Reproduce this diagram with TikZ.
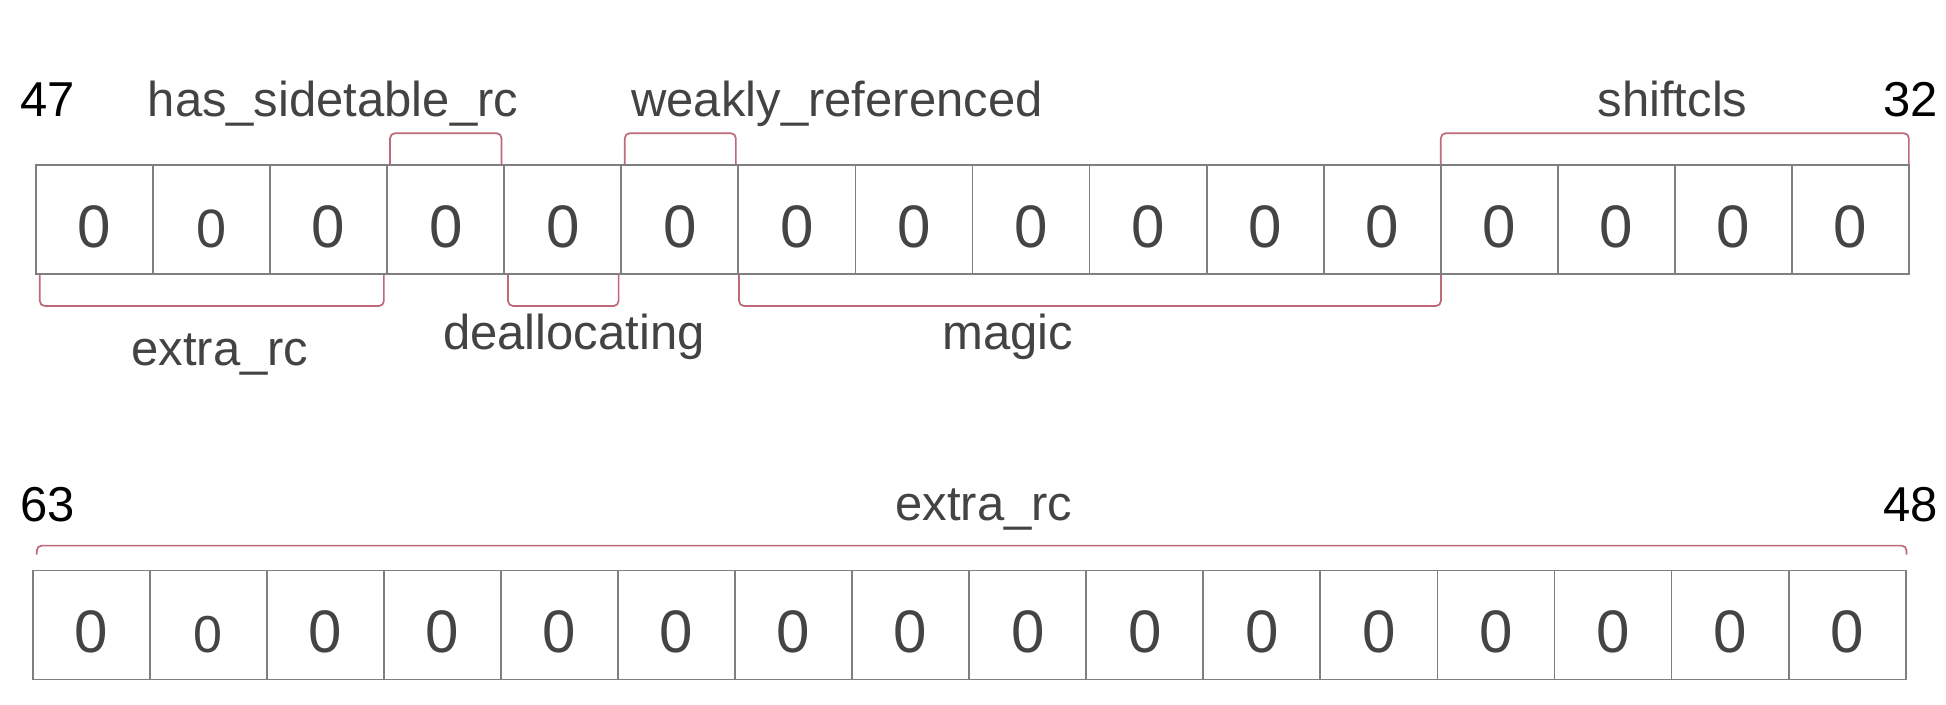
\documentclass[tikz,border=0pt]{standalone}
\usepackage{fontspec}
\setmainfont{Liberation Sans}
\definecolor{boxline}{HTML}{7F7F7F}
\definecolor{digit}{HTML}{444444}
\definecolor{labeltext}{HTML}{434343}
\definecolor{brace}{HTML}{BE6878}
\begin{document}
\begin{tikzpicture}[x=1pt,y=-1pt,
  cell/.style={draw=boxline, line width=1.8pt, minimum width=117.06pt,
    minimum height=109pt, inner sep=0pt, text=digit,
    font=\fontsize{60}{60}\selectfont, text height=55pt, text depth=0pt},
  smalldigit/.style={font=\fontsize{#1}{#1}\selectfont},
  brk/.style={draw=brace, line width=1.7pt, rounded corners=5pt},
  lbl/.style={text=labeltext, font=\fontsize{49}{49}\selectfont,
    inner sep=0pt, anchor=base},
  num/.style={text=black, font=\fontsize{49}{49}\selectfont, inner sep=0pt}]
\useasboundingbox (0,0) rectangle (1946,704);
\fill[white] (0,0) rectangle (1946,704);

% bits 47..32 (the second digit is typed a little smaller)
\foreach \i in {1,...,16}{
  \ifnum\i=2
    \node[cell, smalldigit=54] (t\i) at ({36+117.06*(\i-0.5)},219.6) {0};
  \else
    \node[cell] (t\i) at ({36+117.06*(\i-0.5)},219.6) {0};
  \fi}
% bits 63..48 (here too)
\foreach \i in {1,...,16}{
  \ifnum\i=2
    \node[cell, smalldigit=52] (b\i) at ({32.7+117.06*(\i-0.5)},625) {0};
  \else
    \node[cell] (b\i) at ({32.7+117.06*(\i-0.5)},625) {0};
  \fi}

% field brackets above the upper word
\draw[brk] ([xshift=3.8pt]t4.north west) -- ++(0,-31) -| ([xshift=-3.6pt]t4.north east);
\draw[brk] ([xshift=4.4pt]t6.north west) -- ++(0,-31) -| ([xshift=-3.4pt]t6.north east);
\draw[brk] ([xshift=1pt]t13.north west) -- ++(0,-31) -| ([xshift=-1pt]t16.north east);
% field brackets below the upper word
\draw[brk] ([xshift=4.7pt]t1.south west) -- ++(0,31) -| ([xshift=-4.2pt]t3.south east);
\draw[brk] ([xshift=4.7pt]t5.south west) -- ++(0,31) -| ([xshift=-3.6pt]t5.south east);
\draw[brk] ([xshift=1.6pt]t7.south west) -- ++(0,31) -| ([xshift=-0.7pt]t12.south east);
% bracket over the lower word
\draw[brk] ([xshift=5pt,yshift=15pt]b1.north west) -- ++(0,-9) -| ([yshift=15pt]b16.north east);

% field names
\node[lbl] (fhas) at (333,116) {has\_sidetable\_rc};
\node[lbl] (fweak) at (837,116) {weakly\_referenced};
\node[lbl] (fshift) at (1672.5,116) {shiftcls};
\node[lbl] (fextra) at (220,365) {extra\_rc};
\node[lbl] (fdealloc) at (574,349) {deallocating};
\node[lbl] (fmagic) at (1008,349) {magic};
\node[lbl] (fextrahi) at (984,520) {extra\_rc};

% bit numbers
\node[num, anchor=base west] (n47) at (20,116) {47};
\node[num, anchor=base east] (n32) at (1938,116) {32};
\node[num, anchor=base west] (n63) at (20,521.7) {63};
\node[num, anchor=base east] (n48) at (1938,521.7) {48};
\end{tikzpicture}
\end{document}
